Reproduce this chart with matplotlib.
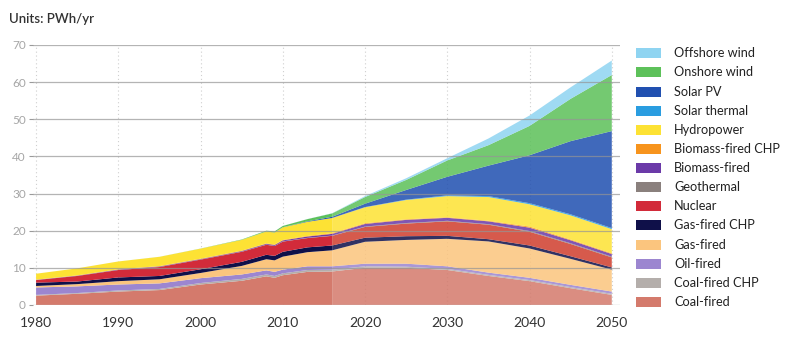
import matplotlib
matplotlib.use("Agg")
import matplotlib.pyplot as plt
from matplotlib.patches import Rectangle
import numpy as np

plt.rcParams['font.family'] = ['Lato', 'DejaVu Sans']

years = [1980, 1985, 1990, 1995, 2000, 2005, 2008, 2009, 2010, 2013, 2016,
         2020, 2025, 2030, 2035, 2040, 2045, 2050]

coal_fired      = [2.5, 3.0, 3.6, 4.0, 5.5, 6.5, 7.7, 7.3, 8.0, 8.9, 9.0, 10.0, 10.0, 9.4, 7.8, 6.4, 4.5, 2.7]
coal_fired_chp  = [0.2, 0.2, 0.3, 0.3, 0.4, 0.5, 0.5, 0.5, 0.5, 0.5, 0.5, 0.4, 0.3, 0.3, 0.3, 0.3, 0.3, 0.3]
oil_fired       = [2.0, 1.8, 1.6, 1.5, 1.3, 1.2, 1.1, 1.1, 1.0, 1.0, 0.9, 0.7, 0.8, 0.7, 0.6, 0.6, 0.6, 0.6]
gas_fired       = [0.4, 0.6, 0.9, 1.1, 1.4, 2.3, 3.0, 3.1, 3.5, 3.8, 4.3, 5.9, 6.4, 7.4, 8.4, 7.9, 7.0, 5.9]
gas_fired_chp   = [0.9, 0.7, 1.0, 0.9, 1.0, 1.1, 1.2, 1.2, 1.3, 1.3, 1.3, 1.1, 1.0, 0.8, 0.6, 0.8, 0.7, 0.6]
nuclear         = [0.7, 1.5, 2.0, 2.4, 2.6, 2.7, 2.7, 2.65, 2.75, 2.5, 2.6, 2.9, 3.4, 3.9, 3.9, 3.7, 3.3, 2.7]
geothermal      = [0.02, 0.03, 0.04, 0.05, 0.05, 0.06, 0.06, 0.06, 0.07, 0.07, 0.08, 0.1, 0.15, 0.15, 0.15, 0.2, 0.2, 0.2]
biomass_fired   = [0.05, 0.07, 0.1, 0.12, 0.1, 0.15, 0.2, 0.22, 0.25, 0.35, 0.45, 0.7, 0.85, 0.8, 0.75, 0.9, 0.8, 0.7]
biomass_chp     = [0.03, 0.05, 0.06, 0.08, 0.1, 0.1, 0.12, 0.12, 0.13, 0.15, 0.17, 0.2, 0.15, 0.15, 0.15, 0.3, 0.2, 0.2]
hydropower      = [1.6, 1.9, 2.1, 2.5, 2.7, 2.9, 3.2, 3.25, 3.4, 3.8, 4.1, 4.3, 5.2, 5.7, 6.4, 6.0, 6.5, 6.5]
solar_thermal   = [0, 0, 0, 0, 0, 0, 0.001, 0.001, 0.002, 0.005, 0.01, 0.05, 0.1, 0.2, 0.25, 0.3, 0.3, 0.3]
solar_pv        = [0, 0, 0, 0, 0.001, 0.003, 0.01, 0.02, 0.03, 0.13, 0.33, 0.9, 2.6, 5.0, 8.2, 12.9, 19.7, 26.1]
onshore_wind    = [0, 0, 0.004, 0.01, 0.03, 0.1, 0.2, 0.27, 0.33, 0.6, 0.9, 1.8, 2.7, 4.4, 5.5, 7.9, 11.4, 15.1]
offshore_wind   = [0, 0, 0, 0, 0, 0, 0.003, 0.004, 0.01, 0.02, 0.05, 0.25, 0.45, 0.6, 1.8, 2.8, 3.1, 3.9]

labels = ["Coal-fired", "Coal-fired CHP", "Oil-fired", "Gas-fired", "Gas-fired CHP",
          "Nuclear", "Geothermal", "Biomass-fired", "Biomass-fired CHP", "Hydropower",
          "Solar thermal", "Solar PV", "Onshore wind", "Offshore wind"]
colors = ["#d47a6c", "#b4aeab", "#9c86d0", "#fbc57e", "#0f1049",
          "#d22b3a", "#8a807d", "#6b3aa8", "#f7941d", "#fde234",
          "#2a9de0", "#2150b0", "#5dc15a", "#8fd4f1"]
forecast_colors = ["#d47a6c", "#b4aeab", "#9c86d0", "#fbc57e", "#0f1049",
                   "#d03f2e", "#8a807d", "#6b3aa8", "#f7941d", "#fde234",
                   "#2a9de0", "#2150b0", "#5dc15a", "#8fd4f1"]
history_end = 2016

series = np.array([coal_fired, coal_fired_chp, oil_fired, gas_fired, gas_fired_chp,
                   nuclear, geothermal, biomass_fired, biomass_chp, hydropower,
                   solar_thermal, solar_pv, onshore_wind, offshore_wind])
yrs = np.array(years)

fig = plt.figure(figsize=(8, 3.43), dpi=100)
ax = fig.add_axes([0.041, 0.111, 0.734, 0.758])

hist = yrs <= history_end
fut = yrs >= history_end
ax.stackplot(yrs[hist], series[:, hist], colors=colors, linewidth=0, zorder=2)
ax.stackplot(yrs[fut], series[:, fut], colors=forecast_colors, alpha=0.86, linewidth=0, zorder=2)

ax.set_xlim(1979.6, 2051)
ax.set_ylim(0, 70)
ax.set_yticks(range(0, 71, 10))
ax.set_xticks(range(1980, 2051, 10))
for s in ax.spines.values():
    s.set_visible(False)

for v in range(0, 71, 10):
    ax.axhline(v, color='#959595', lw=0.9, alpha=0.7, zorder=3)
for x in range(1980, 2051, 10):
    ax.axvline(x, color='#cfcfcf', lw=0.8, ls=(0, (1, 2.5)), zorder=1)

ax.tick_params(axis='y', length=3, width=0.8, color='#9a9a9a', labelcolor='#a6a6a6',
               labelsize=8.5, pad=2)
ax.tick_params(axis='x', length=0, labelcolor='#333333', labelsize=10, pad=9)

fig.text(0.011, 0.945, "Units: PWh/yr", fontsize=9.5, fontweight='semibold',
         color='#333333', va='center', ha='left')

# legend (top to bottom: reverse of stacking order)
top_y = 53.3
step = 19.13
W, H = 800.0, 343.0
for i, (lab, col) in enumerate(zip(labels[::-1], colors[::-1])):
    yc = top_y + i * step
    fig.add_artist(Rectangle((636 / W, 1 - (yc + 5) / H), 25 / W, 10 / H,
                             transform=fig.transFigure, facecolor=col, edgecolor='none'))
    fig.text(674 / W, 1 - yc / H, lab, fontsize=9.2, color='#222222', va='center', ha='left')

fig.savefig("out.png", dpi=100)
